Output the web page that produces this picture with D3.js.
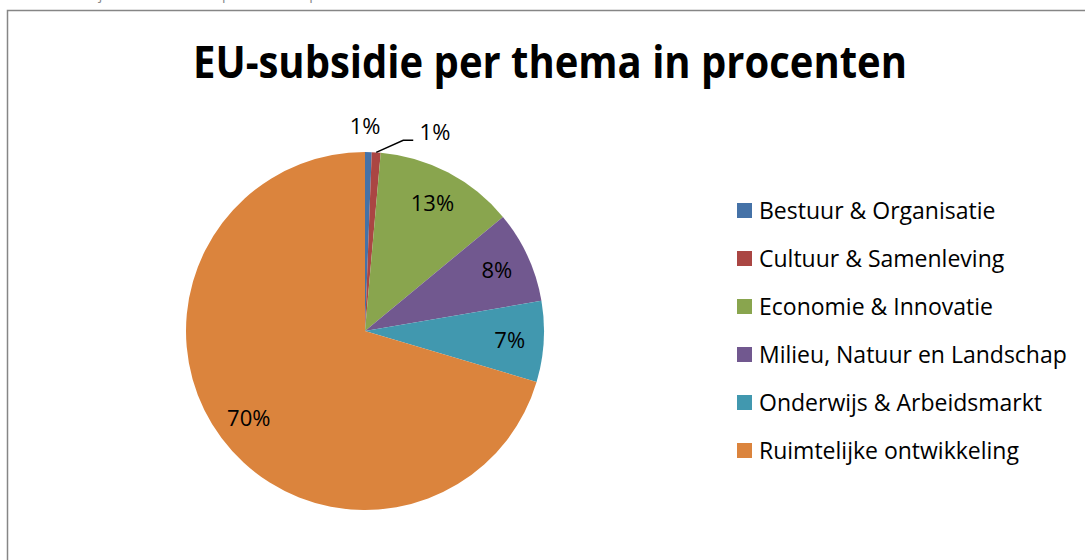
<!DOCTYPE html>
<html>
<head>
<meta charset="utf-8">
<script src="https://cdn.jsdelivr.net/npm/d3@7"></script>
<style>
  html, body { margin: 0; padding: 0; background: #fff; }
  svg { display: block; }
</style>
</head>
<body>
<svg id="chart" width="1085" height="560"></svg>
<script>
// data
const themes = [
  "Bestuur & Organisatie",
  "Cultuur & Samenleving",
  "Economie & Innovatie",
  "Milieu, Natuur en Landschap",
  "Onderwijs & Arbeidsmarkt",
  "Ruimtelijke ontwikkeling"
];
const shares = [0.6, 0.8, 12.6, 8.3, 7.3, 70.4];
const colors = ["#4572A7", "#AA4643", "#89A54E", "#71588F", "#4198AF", "#DB843D"];
const title = "EU-subsidie per thema in procenten";
const caption = "Grafiek 4: Projecten EU-subsidie per thema in procenten";

const svg = d3.select("#chart");

// kop boven de grafiek (valt grotendeels buiten beeld)
svg.append("text")
  .attr("x", 10)
  .attr("y", -1)
  .attr("font-family", "Open Sans, sans-serif")
  .attr("font-size", 14)
  .attr("fill", "#888")
  .text(caption);

// kader
svg.append("rect")
  .attr("x", 7.5)
  .attr("y", 10.5)
  .attr("width", 1100)
  .attr("height", 600)
  .attr("fill", "#fff")
  .attr("stroke", "#868686")
  .attr("stroke-width", 1.5);

// titel
svg.append("text")
  .attr("x", 550)
  .attr("y", 78)
  .attr("text-anchor", "middle")
  .attr("font-family", "Open Sans, sans-serif")
  .attr("font-weight", "bold")
  .attr("font-size", 45)
  .attr("textLength", 714)
  .attr("lengthAdjust", "spacingAndGlyphs")
  .attr("fill", "#000")
  .text(title);

// taart
const cx = 365, cy = 331, r = 179;
const pie = d3.pie().sort(null).value(d => d)(shares);
const arc = d3.arc().innerRadius(0).outerRadius(r);

const g = svg.append("g").attr("transform", `translate(${cx},${cy})`);
g.selectAll("path")
  .data(pie)
  .enter()
  .append("path")
  .attr("d", arc)
  .attr("fill", (d, i) => colors[i]);

// labels: binnen de taart, of buiten voor kleine stukken
const inner = d3.arc().innerRadius(r * 0.81).outerRadius(r * 0.81);
const labelPos = pie.map((d, i) => {
  if (i === 0) return [0, -r - 26];
  if (i === 1) return [70, -r - 20];
  return inner.centroid(d);
});

// verbindingslijn voor het tweede kleine stuk
const mid1 = (pie[1].startAngle + pie[1].endAngle) / 2;
const p0 = [Math.sin(mid1) * r, -Math.cos(mid1) * r];
g.append("polyline")
  .attr("points", [p0, [p0[0] + 27, p0[1] - 12], [p0[0] + 37, p0[1] - 12]].map(p => p.join(",")).join(" "))
  .attr("fill", "none")
  .attr("stroke", "#000")
  .attr("stroke-width", 1.5);

g.selectAll("text.lbl")
  .data(pie)
  .enter()
  .append("text")
  .attr("class", "lbl")
  .attr("x", (d, i) => labelPos[i][0])
  .attr("y", (d, i) => labelPos[i][1])
  .attr("dy", "0.36em")
  .attr("text-anchor", "middle")
  .attr("font-family", "Open Sans, sans-serif")
  .attr("font-size", 22)
  .attr("fill", "#000")
  .text(d => Math.round(d.data) + "%");

// legenda
const ly = d3.scalePoint().domain(themes).range([210.5, 450.5]);
const leg = svg.append("g");
leg.selectAll("rect")
  .data(themes)
  .enter()
  .append("rect")
  .attr("x", 737)
  .attr("y", d => ly(d) - 7.5)
  .attr("width", 15)
  .attr("height", 15)
  .attr("fill", (d, i) => colors[i]);
leg.selectAll("text")
  .data(themes)
  .enter()
  .append("text")
  .attr("x", 759)
  .attr("y", d => ly(d))
  .attr("dy", "0.36em")
  .attr("font-family", "Open Sans, sans-serif")
  .attr("font-size", 23)
  .attr("fill", "#000")
  .text(d => d);
</script>
</body>
</html>
